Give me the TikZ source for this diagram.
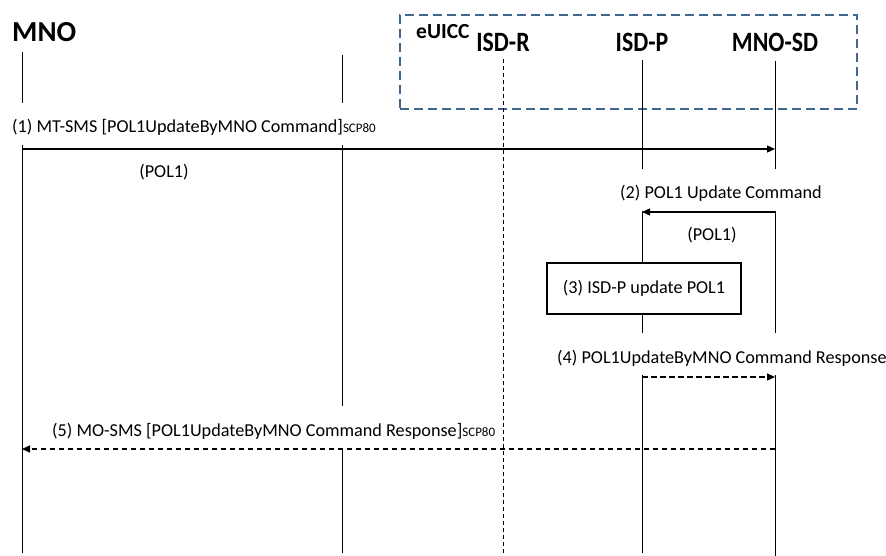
\documentclass[tikz,border=0pt]{standalone}
\usepackage{fontspec}
\setmainfont{Carlito}
\newfontfamily\hdfont[FakeStretch=0.85]{Carlito}
\usetikzlibrary{arrows.meta}
\definecolor{euiccblue}{HTML}{41668F}
\begin{document}
\begin{tikzpicture}[x=1pt,y=-1pt,
  life/.style={line width=0.8pt, black},
  lifedash/.style={line width=0.8pt, black, dash pattern=on 4pt off 3pt},
  msgline/.style={line width=1.3pt, -{Triangle[length=8pt,width=7pt]}},
  msgdash/.style={line width=1.5pt, dash pattern=on 5.5pt off 3.5pt, -{Triangle[length=8pt,width=7pt]}},
  msg/.style={font=\fontsize{18.2}{20}\selectfont, fill=white, inner xsep=4pt, inner ysep=0pt,
              text height=30pt, text depth=12pt, anchor=base west},
  plain/.style={font=\fontsize{18.2}{20}\selectfont, inner sep=0pt},
  hdr/.style={font=\hdfont\bfseries\fontsize{28}{30}\selectfont, inner sep=0pt, anchor=base},
  actbox/.style={draw, line width=1.2pt, fill=white, font=\fontsize{18.2}{20}\selectfont,
                 minimum width=194pt, minimum height=51pt, inner sep=0pt},
  groupbox/.style={draw=euiccblue, line width=1.4pt, dash pattern=on 9pt off 5pt,
                   minimum width=457pt, minimum height=94pt, inner sep=0pt},
]
\useasboundingbox (0,0) rectangle (886,556);
\newcommand{\scpsmall}{{\fontsize{13}{14}\selectfont SCP80}}

% eUICC group
\node[groupbox] (euiccbox) at (628.5,62) {};
\node[font=\bfseries\fontsize{21.5}{24}\selectfont, inner sep=0pt, anchor=base west] (euicc) at (416,39) {eUICC};

% headers
\node[font=\bfseries\fontsize{29}{31}\selectfont, inner sep=0pt, anchor=base west] (mno) at (12,42) {MNO};
\node[hdr] (isdr) at (503,52) {ISD-R};
\node[hdr] (isdp) at (642,52) {ISD-P};
\node[hdr] (mnosd) at (775,52) {MNO-SD};

% lifeline ends
\coordinate (mnoT) at (22,52);   \coordinate (mnoB) at (22,553);
\coordinate (l2T) at (342,55);   \coordinate (l2B) at (342,553);
\coordinate (isdrT) at (503,59); \coordinate (isdrB) at (503,553);
\coordinate (isdpT) at (642,60); \coordinate (isdpB) at (642,553);
\coordinate (sdT) at (775,61);   \coordinate (sdB) at (775,556);

\draw[life] (mnoT) -- (mnoB);
\draw[life] (l2T) -- (l2B);
\draw[lifedash] (isdrT) -- (isdrB);
\draw[life] (isdpT) -- (isdpB);
\draw[life] (sdT) -- (sdB);

% message end points
\coordinate (m1a) at (22,149);  \coordinate (m1b) at (775,149);
\coordinate (m2a) at (775,212); \coordinate (m2b) at (642,212);
\coordinate (m4a) at (642,377); \coordinate (m4b) at (775,377);
\coordinate (m5a) at (775,449); \coordinate (m5b) at (22,449);

% labels (white background hides lifelines)
\node[msg] (l1) at (8,133) {(1) MT-SMS [POL1UpdateByMNO Command]\scpsmall};
\node[msg] (l2) at (616,199) {(2) POL1 Update Command};
\node[msg] (l4) at (553,363) {(4) POL1UpdateByMNO Command Response};
\node[msg, inner xsep=6pt] (l5) at (46,436) {(5) MO-SMS [POL1UpdateByMNO Command Response]\scpsmall};

% messages
\draw[msgline] (m1a) -- (m1b);
\draw[msgline] (m2a) -- (m2b);
\draw[msgdash] (m4a) -- (m4b);
\draw[msgdash] (m5a) -- (m5b);

\node[plain] (p1) at (164,172) {(POL1)};
\node[plain] (p2) at (712,235) {(POL1)};

\node[actbox] (act3) at (644,288.5) {(3) ISD-P update POL1};
\end{tikzpicture}
\end{document}
